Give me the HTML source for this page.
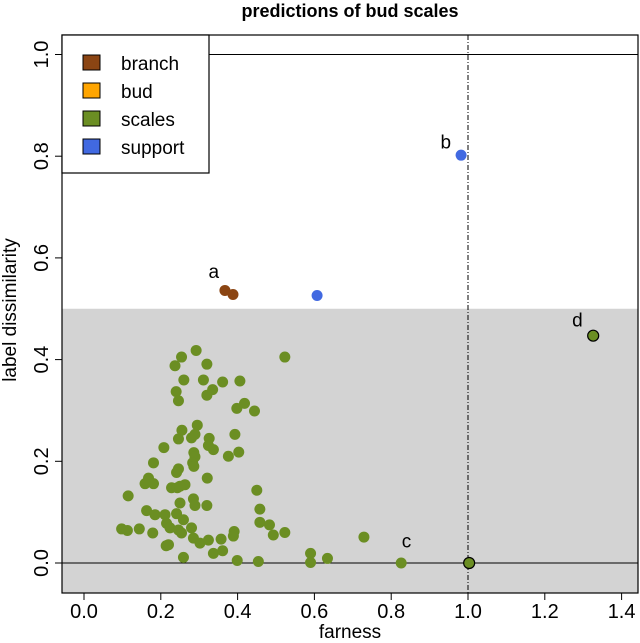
<!DOCTYPE html>
<html><head><meta charset="utf-8"><style>
html,body{margin:0;padding:0;background:#fff;}
svg{display:block;font-family:"Liberation Sans",sans-serif;}
</style></head><body>
<svg id="chart" width="640" height="643" viewBox="0 0 640 643" xmlns="http://www.w3.org/2000/svg">
<text x="350" y="17" text-anchor="middle" font-size="18" font-weight="bold">predictions of bud scales</text>
<rect id="grayrect" x="62" y="309" width="576" height="284" fill="#d3d3d3"/>
<g id="marks"></g>
<rect x="62" y="35" width="576" height="558" fill="none" stroke="#000" stroke-width="1.2"/>
<g id="axes"></g>
<text x="350" y="638" text-anchor="middle" font-size="19">farness</text>
<text transform="translate(16,310) rotate(-90)" text-anchor="middle" font-size="19">label dissimilarity</text>
<g>
<rect x="62" y="35" width="147" height="138" fill="#fff" stroke="#000" stroke-width="1.2"/>
<rect x="83" y="55" width="17" height="15" fill="#8B4513" stroke="#000"/>
<text x="121" y="70" font-size="19">branch</text>
<rect x="83" y="83" width="17" height="15" fill="#FFA500" stroke="#000"/>
<text x="121" y="98" font-size="19">bud</text>
<rect x="83" y="111" width="17" height="15" fill="#6B8E23" stroke="#000"/>
<text x="121" y="126" font-size="19">scales</text>
<rect x="83" y="139" width="17" height="15" fill="#4169E1" stroke="#000"/>
<text x="121" y="154" font-size="19">support</text>
</g>
</svg>
<script>
const scalesX=[0.292,0.254,0.237,0.320,0.523,0.260,0.311,0.361,0.406,0.240,0.246,0.320,0.335,0.398,0.418,0.444,0.295,0.255,0.246,0.280,0.289,0.208,0.326,0.324,0.337,0.393,0.376,0.403,0.286,0.289,0.283,0.286,0.181,0.246,0.241,0.321,0.168,0.159,0.181,0.228,0.243,0.263,0.250,0.115,0.450,0.285,0.289,0.320,0.250,0.163,0.185,0.211,0.241,0.259,0.215,0.224,0.246,0.254,0.280,0.285,0.302,0.324,0.357,0.391,0.389,0.458,0.458,0.483,0.493,0.523,0.098,0.113,0.144,0.179,0.214,0.220,0.259,0.337,0.361,0.399,0.454,0.590,0.590,0.634,0.729,0.826];
const scalesY=[0.418,0.405,0.388,0.391,0.405,0.360,0.360,0.356,0.358,0.337,0.319,0.330,0.341,0.304,0.314,0.299,0.271,0.261,0.244,0.246,0.253,0.227,0.245,0.231,0.223,0.253,0.210,0.218,0.217,0.209,0.197,0.190,0.197,0.185,0.178,0.167,0.167,0.156,0.156,0.148,0.148,0.154,0.151,0.132,0.143,0.126,0.113,0.113,0.118,0.103,0.095,0.095,0.097,0.085,0.078,0.069,0.065,0.059,0.069,0.049,0.039,0.045,0.047,0.062,0.053,0.106,0.080,0.075,0.055,0.060,0.067,0.064,0.067,0.059,0.034,0.036,0.011,0.019,0.024,0.005,0.003,0.019,0.001,0.009,0.051,0.0];
const highlightX=[1.003,1.326];
const highlightY=[0.0,0.447];
const branchX=[0.367,0.388];
const branchY=[0.536,0.528];
const supportX=[0.607,0.982];
const supportY=[0.526,0.802];
const xTicks=[0,0.2,0.4,0.6,0.8,1.0,1.2,1.4];
const xTickLabels=["0.0","0.2","0.4","0.6","0.8","1.0","1.2","1.4"];
const yTicks=[0,0.2,0.4,0.6,0.8,1.0];
const yTickLabels=["0.0","0.2","0.4","0.6","0.8","1.0"];
const threshold=0.5;
const pointLabels=["a","b","c","d"];
const pointLabelX=[0.338,0.942,0.840,1.285];
const pointLabelY=[0.560,0.815,0.030,0.465];

const NS="http://www.w3.org/2000/svg";
const sx=v=>84+v*384;
const sy=v=>563-v*508.5;
const marks=document.getElementById('marks');
const axes=document.getElementById('axes');
function mk(tag,attrs,parent){const e=document.createElementNS(NS,tag);for(const k in attrs)e.setAttribute(k,attrs[k]);parent.appendChild(e);return e;}

const g=document.getElementById('grayrect');
g.setAttribute('y',sy(threshold));
g.setAttribute('height',593-sy(threshold));

let l=mk('line',{x1:62,x2:638,y1:sy(0),y2:sy(0),stroke:'#000','stroke-width':1},marks);


l=mk('line',{x1:62,x2:638,y1:sy(1),y2:sy(1),stroke:'#000','stroke-width':1},marks);


l=mk('line',{x1:sx(1),x2:sx(1),y1:35,y2:593,stroke:'#000','stroke-width':1,'stroke-dasharray':'5,2,1,2'},marks);



function pts(xs,ys,fill,name,outline){
  for(let i=0;i<xs.length;i++){
    const c=mk('circle',{cx:sx(xs[i]),cy:sy(ys[i]),r:5.5,fill:fill},marks);
    if(outline){c.setAttribute('stroke','#000');c.setAttribute('stroke-width','1.2');}
    
    
  }
}
pts(scalesX,scalesY,'#6B8E23','scales-point',false);
pts(highlightX,highlightY,'#6B8E23','highlighted-scales-point',true);
pts(branchX,branchY,'#8B4513','branch-point',false);
pts(supportX,supportY,'#4169E1','support-point',false);

for(let i=0;i<pointLabels.length;i++){
  const t=mk('text',{x:sx(pointLabelX[i]),y:sy(pointLabelY[i]),'font-size':19,'text-anchor':'middle'},marks);
  t.textContent=pointLabels[i];
  
  
}

for(let i=0;i<xTicks.length;i++){
  const x=sx(xTicks[i]);
  const tk=mk('line',{x1:x,x2:x,y1:593,y2:600,stroke:'#000'},axes);
  
  
  const t=mk('text',{x:x,y:618,'font-size':20,'text-anchor':'middle'},axes);
  t.textContent=xTickLabels[i];
  
  
}
for(let i=0;i<yTicks.length;i++){
  const y=sy(yTicks[i]);
  const tk=mk('line',{x1:55,x2:62,y1:y,y2:y,stroke:'#000'},axes);
  
  
  const t=mk('text',{transform:'translate(48,'+y+') rotate(-90)','font-size':20,'text-anchor':'middle'},axes);
  t.textContent=yTickLabels[i];
  
  
}
</script>
</body></html>
